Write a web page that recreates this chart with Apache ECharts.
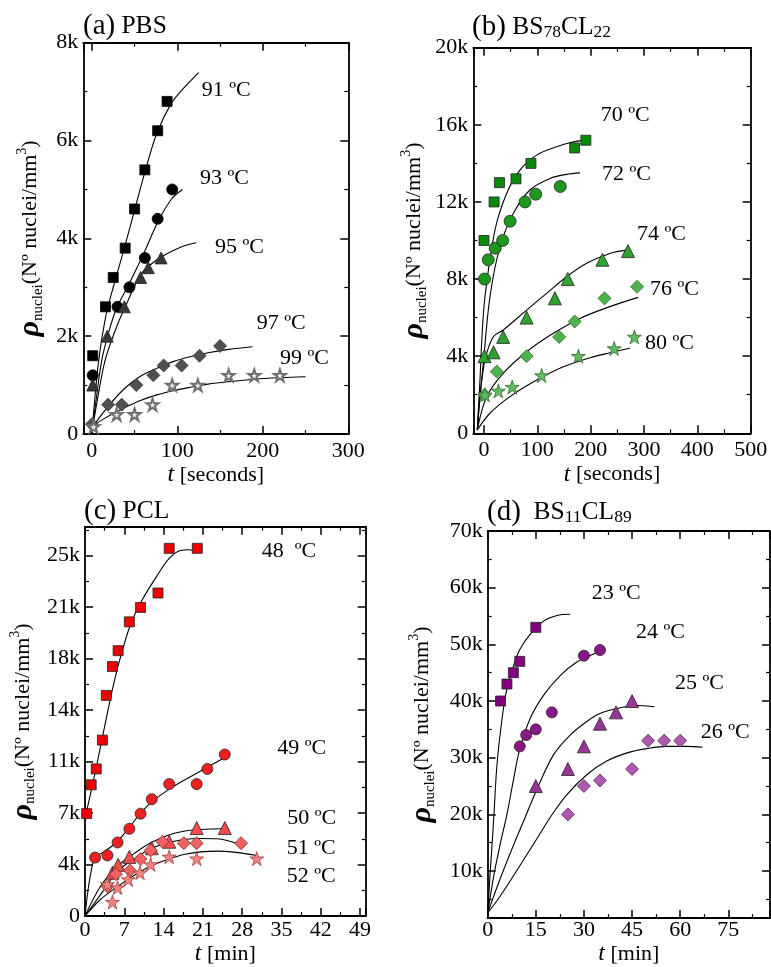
<!DOCTYPE html>
<html>
<head>
<meta charset="utf-8">
<title>Nuclei density vs time</title>
<script src="https://cdn.jsdelivr.net/npm/echarts@6/dist/echarts.min.js"></script>
<style>
    html, body { margin: 0; padding: 0; background: #fff; }
    #main { width: 771px; height: 967px; }
</style>
</head>
<body>
<div id="main"></div>
<script>
// ---- data: [t, rho] ----
// (a) PBS, t in seconds
var pbs91 = [[1,1600],[16,2600],[25,3200],[39,3800],[50,4600],[62,5400],[77,6200],[88,6800]];
var pbs93 = [[1,1200],[30,2600],[44,3000],[62,3600],[77,4400],[94,5000]];
var pbs95 = [[1,1000],[18,2000],[38,2600],[57,3200],[66,3400],[81,3600]];
var pbs97 = [[0,200],[19,600],[35,600],[52,1000],[72,1200],[84,1400],[105,1400],[126,1600],[150,1800]];
var pbs99 = [[2,150],[29,400],[50,400],[71,600],[94,1000],[124,1000],[160,1200],[190,1200],[220,1200]];
var pbsFit91 = [[0,0],[7.6,1450],[15.4,2330],[25,3000],[38,3800],[50,4580],[62,5350],[76,6150],[93,6760],[109,7100],[125,7390]];
var pbsFit93 = [[0,0],[5,700],[11.5,1500],[20,2100],[29,2570],[43,3050],[61,3700],[77,4330],[93,4800],[106,5000]];
var pbsFit95 = [[0,0],[6,650],[15.4,1500],[27,2100],[39,2600],[58,3280],[70,3480],[82,3630],[105,3830],[122,3910]];
var pbsFit97 = [[0,0],[1.7,150],[17,520],[37,910],[56,1170],[76,1340],[95,1480],[115,1580],[136,1660],[160,1730],[188,1785]];
var pbsFit99 = [[0,0],[1.7,150],[17,340],[37,525],[56,680],[76,800],[95,885],[115,955],[136,1020],[160,1070],[190,1120],[220,1150],[250,1170]];

// (b) BS78CL22, t in seconds
var bsa70 = [[0,10000],[19,12000],[29,13000],[60,13200],[88,14000],[170,14800],[191,15200]];
var bsa72 = [[1,8000],[8,9000],[21,9600],[35,10000],[49,11000],[77,12000],[97,12400],[143,12800]];
var bsa74 = [[1,4000],[18,4200],[36,5000],[80,6000],[133,7000],[157,8000],[222,9000],[270,9450]];
var bsa76 = [[1,2000],[24,3200],[80,4000],[141,5000],[170,5800],[226,7000],[287,7600]];
var bsa80 = [[2,2000],[27,2200],[53,2400],[108,3000],[177,4000],[244,4400],[282,5000]];
var bsaFit70 = [[-12.5,170],[-7.5,2760],[-3.75,5010],[1.9,7080],[20.6,10540],[42.5,12440],[67.5,13650],[98.8,14430],[136,14860],[161,15070],[195.6,15245]];
var bsaFit72 = [[-12.5,170],[-7,2000],[-1.3,3630],[11.25,7080],[30,9680],[55,11400],[86,12620],[124,13220],[155,13430],[180,13510]];
var bsaFit74 = [[-12.5,170],[-7.5,1900],[1.9,3800],[17.4,5010],[36.2,5360],[80,6390],[117.5,7260],[155,8120],[192.5,8815],[236,9330],[267.5,9500]];
var bsaFit76 = [[-12.5,170],[5,1900],[36,3110],[80,4230],[130,5185],[180,5960],[236,6570],[289,7050]];
var bsaFit80 = [[-12.5,170],[11.25,1040],[48.75,1900],[98.8,2760],[148.75,3450],[198.75,3920],[236,4180],[273.75,4410]];

// (c) PCL, t in min
var pcl48 = [[0.3,7100],[1.1,9100],[2,10200],[3.1,12200],[3.8,15300],[4.9,17300],[5.9,18400],[7.9,20400],[9.9,21400],[13,22400],[15,25500],[20,25500]];
var pcl49 = [[1.8,4050],[4,4200],[5.8,5100],[7.9,6050],[9.9,7100],[11.9,8100],[15,9150],[19.9,9150],[21.8,10200],[24.9,11200]];
var pcl50 = [[4.9,3000],[5.9,3550],[7.9,4100],[11.9,4700],[15,5150],[19.9,6100],[24.9,6100]];
var pcl51 = [[4,2050],[5.5,2900],[8,3150],[9.9,3950],[11.7,4550],[13.8,5150],[17.6,5050],[19.9,5050],[27.8,5050]];
var pcl52 = [[4,2200],[4.9,970],[5.8,1970],[7.7,2540],[9.8,3000],[11.7,3580],[15,4110],[19.9,3980],[30.6,3980]];
var pclFit48 = [[0,6800],[1,8500],[2,10300],[3,12200],[4,14100],[5,15900],[6,17500],[8,20100],[10,21800],[13,23700],[15,24800],[17,25350],[18.5,25400],[20,25250]];
var pclFit49 = [[0,0],[0.5,1700],[1,2900],[1.65,3950],[2.5,4250],[3.4,4450],[5.5,5080],[7.6,6000],[9.6,7000],[11.7,7850],[15,8800],[19.9,9900],[24.9,11000]];
var pclFit50 = [[0,0],[2.8,2080],[5.8,3460],[8.8,4340],[11.7,5080],[14.7,5590],[17.6,5880],[20.6,6000],[24.1,6050],[25.6,6000]];
var pclFit51 = [[0,0],[2.8,1500],[5.8,3100],[8.8,3970],[11.7,4660],[14.7,5080],[17.6,5310],[20.6,5380],[23.5,5360],[27.7,4960]];
var pclFit52 = [[0,0],[2.8,1160],[5.8,2030],[8.8,2820],[11.7,3460],[14.7,3920],[17.6,4270],[20.6,4450],[23.5,4500],[26.5,4430],[30.6,4200]];

// (d) BS11CL89, t in min
var bsb23 = [[4,40000],[6,43000],[8,45000],[10,47000],[15,53000]];
var bsb24 = [[10,32000],[12,34000],[15,35000],[20,38000],[30,48000],[35,49000]];
var bsb25 = [[15,25000],[25,28000],[30,32000],[35,36000],[40,38000],[45,40000]];
var bsb26 = [[25,20000],[30,25000],[35,26000],[45,28000],[50,33000],[55,33000],[60,33000]];
var bsbFit23 = [[0,2600],[0.7,9000],[1.9,19500],[2.9,28800],[4.5,37000],[6,42200],[8.1,46300],[10.1,49200],[13.3,51800],[17.4,54100],[21.6,55100],[25.7,55300]];
var bsbFit24 = [[0,2600],[2,9500],[4,15000],[6,20000],[8,26000],[10,31500],[13.3,37000],[17.4,41000],[22.6,44500],[27.8,46900],[33,48300],[35.5,48800]];
var bsbFit25 = [[0,2600],[3.8,8500],[8,14500],[11.7,19500],[15,24000],[20.5,30500],[25.7,34000],[30.9,36400],[35,37800],[41.3,38800],[46.5,39200],[52,39000]];
var bsbFit26 = [[0,2600],[3.8,5500],[11.1,11900],[17.3,17500],[19.5,19500],[24.7,23500],[30.9,27000],[37.1,29400],[43.4,30850],[49.6,31600],[55.8,32000],[62,32000],[67,31850]];

// ---- chart ----
var FONT = 'Liberation Serif';
var STAR = 'path://M50,2 L61.8,38.2 L99.5,38.2 L69,60.5 L80.9,96.7 L50,74.3 L19.1,96.7 L31,60.5 L0.5,38.2 L38.2,38.2 Z';
var kFmt = function (v) { return v === 0 ? '0' : Math.round(v / 1000) + 'k'; };

var yName = '{r|ρ}{s|nuclei}{m|(Nº nuclei/mm}{p|3}{m|)}';
var yRich = {
    r: { fontSize: 30, fontWeight: 'bold', fontStyle: 'italic', fontFamily: FONT, color: '#000' },
    s: { fontSize: 15, fontFamily: FONT, color: '#000', verticalAlign: 'bottom', padding: [10, 0, 0, 0] },
    m: { fontSize: 22, fontFamily: FONT, color: '#000' },
    p: { fontSize: 14, fontFamily: FONT, color: '#000', verticalAlign: 'top', padding: [0, 0, 8, 0] }
};

var grids = [
    { left: 83.3, top: 42.7, width: 265, height: 391.3 },
    { left: 473.3, top: 47.7, width: 277.4, height: 385.6 },
    { left: 85, top: 526.7, width: 280.7, height: 390 },
    { left: 487.7, top: 531, width: 282.3, height: 390.7 }
];

var xCfg = [
    { min: -10, max: 300, splitNumber: 3, name: '{i|t} [seconds]', nameGap: 28, labelMargin: 6, showMin: false, showMax: true },
    { min: -20, max: 500, splitNumber: 5, name: '{i|t} [seconds]', nameGap: 29, labelMargin: 6, showMin: false, showMax: true },
    { min: 0, max: 50, interval: 7, name: '{i|t} [min]', nameGap: 26, labelMargin: 3, showMin: true, showMax: false },
    { min: 0, max: 88, interval: 15, name: '{i|t} [min]', nameGap: 15, labelMargin: 1, showMin: true, showMax: false }
];
var yCfg = [
    { min: 0, max: 8000, interval: 2000, nameGap: 38, showMin: true, showMax: true },
    { min: 0, max: 20000, interval: 4000, nameGap: 44, showMin: true, showMax: true },
    { min: 0, max: 27000, interval: 25000 / 7, nameGap: 47, showMin: true, showMax: false },
    { min: 1700, max: 70000, splitNumber: 7, nameGap: 50, showMin: false, showMax: true }
];

var xAxes = [], yAxes = [];
grids.forEach(function (g, i) {
    var xc = xCfg[i], yc = yCfg[i];
    [false, true].forEach(function (mirror) {
        xAxes.push({
            type: 'value', gridIndex: i, position: mirror ? 'top' : 'bottom',
            min: xc.min, max: xc.max, interval: xc.interval, splitNumber: xc.splitNumber,
            name: mirror ? '' : xc.name, nameLocation: 'middle', nameGap: xc.nameGap,
            nameTextStyle: { fontSize: 22, fontFamily: FONT, color: '#000',
                rich: { i: { fontSize: 24, fontStyle: 'italic', fontFamily: FONT, color: '#000' } } },
            axisLine: { show: true, onZero: false, lineStyle: { color: '#000', width: 1.8 } },
            axisTick: { inside: true, length: 8, lineStyle: { color: '#000', width: 1.5 } },
            minorTick: { show: true, splitNumber: 2, length: 4, lineStyle: { color: '#000', width: 1.2 } },
            axisLabel: { show: !mirror, margin: xc.labelMargin, fontSize: 22, fontFamily: FONT, color: '#000',
                showMinLabel: xc.showMin, showMaxLabel: xc.showMax },
            splitLine: { show: false }
        });
        yAxes.push({
            type: 'value', gridIndex: i, position: mirror ? 'right' : 'left',
            min: yc.min, max: yc.max, interval: yc.interval, splitNumber: yc.splitNumber,
            name: mirror ? '' : yName, nameLocation: 'middle', nameGap: yc.nameGap, nameRotate: 90,
            nameTextStyle: { rich: yRich },
            axisLine: { show: true, onZero: false, lineStyle: { color: '#000', width: 1.8 } },
            axisTick: { inside: true, length: 8, lineStyle: { color: '#000', width: 1.5 } },
            minorTick: { show: true, splitNumber: 2, length: 4, lineStyle: { color: '#000', width: 1.2 } },
            axisLabel: { show: !mirror, margin: 5, fontSize: 22, fontFamily: FONT, color: '#000',
                formatter: kFmt, showMinLabel: yc.showMin, showMaxLabel: yc.showMax },
            splitLine: { show: false }
        });
    });
});

var series = [];
function fit(data, p) {
    series.push({
        type: 'line', data: data, xAxisIndex: 2 * p, yAxisIndex: 2 * p,
        smooth: 0.35, showSymbol: false, symbol: 'none', silent: true, z: 1,
        lineStyle: { color: '#000', width: 1.1 }
    });
}
function pts(data, p, shape, size, color, border, bw) {
    series.push({
        type: 'scatter', data: data, xAxisIndex: 2 * p, yAxisIndex: 2 * p,
        symbol: shape, symbolSize: size, z: 3,
        itemStyle: { color: color, borderColor: border || '#222', borderWidth: bw || 0.8, opacity: 1 }
    });
}

// (a)
[pbsFit91, pbsFit93, pbsFit95, pbsFit97, pbsFit99].forEach(function (d) { fit(d, 0); });
pts(pbs91, 0, 'rect', 10, '#000', '#000');
pts(pbs93, 0, 'circle', 11, '#000', '#000');
pts(pbs95, 0, 'triangle', 12, '#383838', '#222');
pts(pbs97, 0, 'diamond', 13, '#505050', '#333');
pts(pbs99, 0, STAR, 12, '#efefef', '#707070', 2);
// (b)
[bsaFit70, bsaFit72, bsaFit74, bsaFit76, bsaFit80].forEach(function (d) { fit(d, 1); });
pts(bsa70, 1, 'rect', 10, '#0a8a0a');
pts(bsa72, 1, 'circle', 12, '#1c981c');
pts(bsa74, 1, 'triangle', 13, '#2ea32e');
pts(bsa76, 1, 'diamond', 13, '#4db34d', '#2a6a2a');
pts(bsa80, 1, STAR, 14, '#62ba62', '#2a6a2a');
// (c)
[pclFit48, pclFit49, pclFit50, pclFit51, pclFit52].forEach(function (d) { fit(d, 2); });
pts(pcl48, 2, 'rect', 10, '#ee0000');
pts(pcl49, 2, 'circle', 11, '#ee2020');
pts(pcl50, 2, 'triangle', 13, '#f24c4c');
pts(pcl51, 2, 'diamond', 13, '#f26262', '#7a2a2a');
pts(pcl52, 2, STAR, 14, '#f28282', '#a04040');
// (d)
[bsbFit23, bsbFit24, bsbFit25, bsbFit26].forEach(function (d) { fit(d, 3); });
pts(bsb23, 3, 'rect', 10, '#800080');
pts(bsb24, 3, 'circle', 11, '#881888');
pts(bsb25, 3, 'triangle', 13, '#993599');
pts(bsb26, 3, 'diamond', 13, '#b058b0', '#5a2a5a');

// titles and temperature labels
function txt(x, y, text, size, rich) {
    return {
        type: 'text', x: x, y: y, silent: true,
        style: { text: text, fontSize: size, fontFamily: FONT, fill: '#000', verticalAlign: 'middle', rich: rich }
    };
}
var titleRich = {
    b: { fontSize: 29, fontFamily: FONT, color: '#000' },
    n: { fontSize: 25.5, fontFamily: FONT, color: '#000' },
    s: { fontSize: 17.5, fontFamily: FONT, color: '#000', verticalAlign: 'bottom', padding: [10, 0, 0, 0] }
};
var labels = [
    [201.7, 90, '91 ºC'], [200, 178, '93 ºC'], [215, 247, '95 ºC'], [256.7, 323, '97 ºC'], [280, 358, '99 ºC'],
    [600.7, 115, '70 ºC'], [602, 174, '72 ºC'], [637, 234, '74 ºC'], [650, 289, '76 ºC'], [645, 343, '80 ºC'],
    [261.7, 551, '48  ºC'], [277.3, 748, '49 ºC'], [287.3, 818, '50 ºC'], [286.7, 848, '51 ºC'], [286.7, 876, '52 ºC'],
    [591.7, 593, '23 ºC'], [636, 632, '24 ºC'], [675, 683, '25 ºC'], [700.7, 732, '26 ºC']
];
var graphics = [
    txt(83, 26, '{b|(a)} {n|PBS}', 25, titleRich),
    txt(472, 27, '{b|(b)}{n| BS}{s|78}{n|CL}{s|22}', 25, titleRich),
    txt(84, 511, '{b|(c)}{n| PCL}', 25, titleRich),
    txt(487, 512, '{b|(d)}{n|  BS}{s|11}{n|CL}{s|89}', 25, titleRich)
];
labels.forEach(function (l) { graphics.push(txt(l[0], l[1], l[2], 22)); });

var chart = echarts.init(document.getElementById('main'));
chart.setOption({
    backgroundColor: '#fff',
    animation: false,
    textStyle: { fontFamily: FONT },
    grid: grids,
    xAxis: xAxes,
    yAxis: yAxes,
    series: series,
    graphic: graphics
});
</script>
</body>
</html>
